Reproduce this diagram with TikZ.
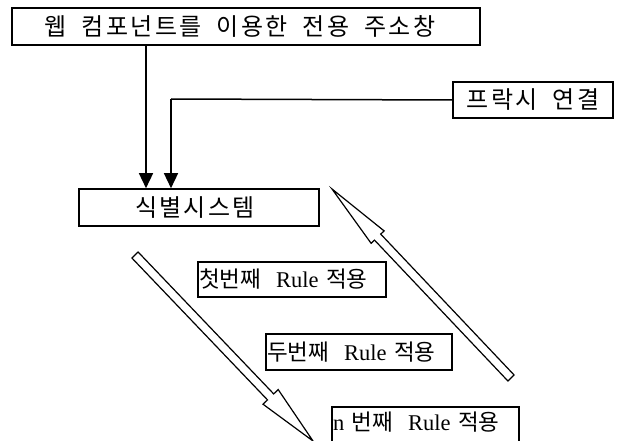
\documentclass[tikz,border=0pt]{standalone}
\usepackage{fontspec}
\setmainfont{Liberation Serif}
\newfontfamily\krw[LetterSpace=10]{Noto Sans CJK KR}
\newfontfamily\kr{Noto Sans CJK KR}
\newcommand{\wsp}{\hskip 15pt\relax}
\usetikzlibrary{arrows.meta,calc}
\begin{document}
\begin{tikzpicture}[x=1pt,y=-1pt,
  bigbox/.style={draw,line width=1.6pt,inner sep=0pt,font=\krw\fontsize{24}{27}\selectfont},
  rulebox/.style={draw,line width=1.3pt,inner xsep=1pt,inner ysep=0pt,align=left,
     font=\fontsize{22.5}{25}\selectfont},
  conn/.style={line width=1.5pt,-{Triangle[length=15pt,width=14pt]}},
  blockarrow/.style={draw,line width=1.2pt,fill=white,line join=miter}]
\useasboundingbox (0,0) rectangle (618,441);
\clip (0,0) rectangle (618,441);

\node[bigbox,minimum width=468pt,minimum height=37pt] (top) at (246,26.5) {\hspace*{-12pt}웹\wsp 컴포넌트를\wsp 이용한\wsp 전용\wsp 주소창};
\node[bigbox,minimum width=240pt,minimum height=37pt] (sik) at (199,207.5) {\hspace*{-8pt}식별시스템};
\node[bigbox,minimum width=160pt,minimum height=36pt] (proxy) at (533,100) {프락시\wsp 연결};

\node[rulebox,text width=186pt,minimum height=35pt] (r1) at (292,279.5) {{\kr 첫번째}\ \ Rule {\kr 적용}};
\node[rulebox,text width=184pt,minimum height=36pt] (r2) at (359,352) {{\kr 두번째}\ \ Rule {\kr 적용}};
\node[rulebox,text width=185pt,minimum height=36pt] (r3) at (425.5,425) {\raisebox{8pt}{n {\kr 번째}\ \ Rule {\kr 적용}}};

\coordinate (a1) at (146,0);
\coordinate (a2) at (171,99);
\draw[conn] (top.south -| a1) -- (sik.north -| a1);
\draw[line width=1.5pt] (proxy.west) -- (a2);
\draw[conn] (a2) -- (sik.north -| a2);

% down block arrow
\path[blockarrow] (138.1,252.0) -- (273.7,393.9) -- (278.2,389.6) -- (313,441)
  -- (263.0,404.2) -- (267.5,399.9) -- (131.9,258.0) -- cycle;
% up block arrow
\path[blockarrow] (514.1,375.0) -- (380.7,234.1) -- (384.1,230.9) -- (332,189)
  -- (371.1,243.3) -- (374.5,240.1) -- (507.9,381.0) -- cycle;
\end{tikzpicture}
\end{document}
